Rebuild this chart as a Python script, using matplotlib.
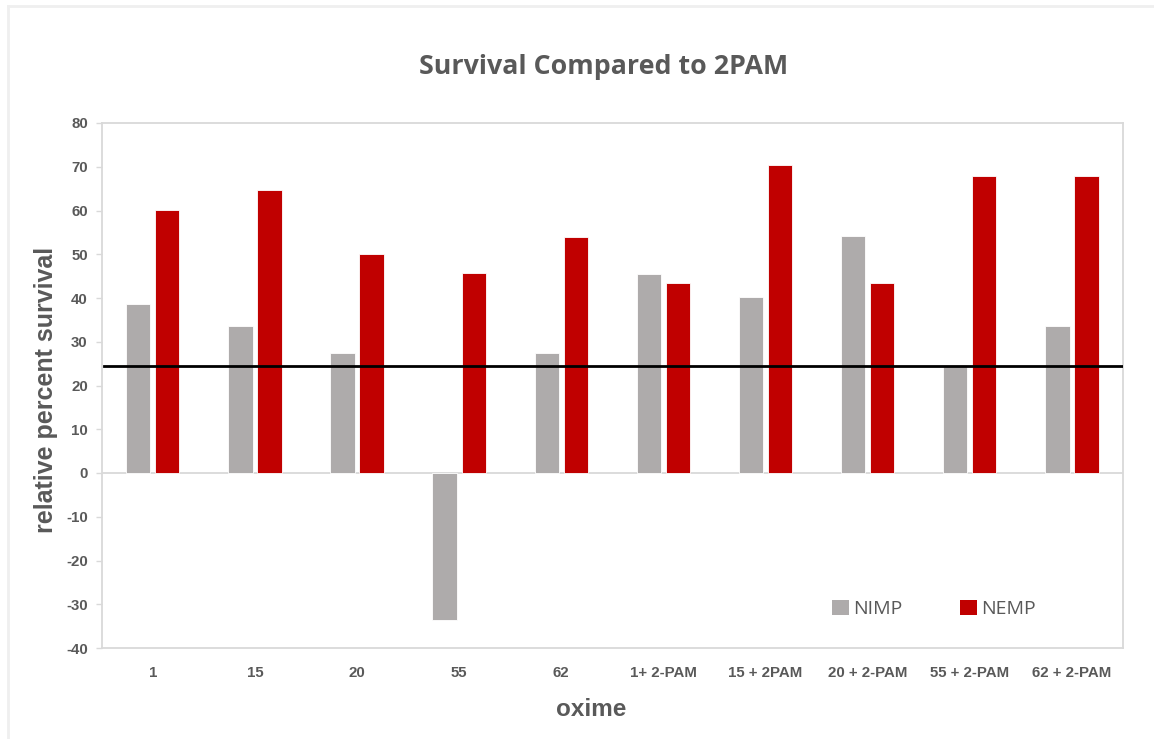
import matplotlib
matplotlib.use("Agg")
import matplotlib.pyplot as plt
import numpy as np
from matplotlib.patches import Patch

categories = ["1", "15", "20", "55", "62", "1+ 2-PAM", "15 + 2PAM", "20 + 2-PAM", "55 + 2-PAM", "62 + 2-PAM"]
nimp = [38.6, 33.6, 27.4, -33.6, 27.4, 45.4, 40.3, 54.1, 24.6, 33.6]
nemp = [60.2, 64.8, 50.0, 45.8, 53.9, 43.4, 70.3, 43.4, 67.8, 67.8]
baseline = 24.5
yticks = [-40, -30, -20, -10, 0, 10, 20, 30, 40, 50, 60, 70, 80]

txt = "#595959"
grid = "#D9D9D9"
c_nimp = "#AEABAB"
c_nemp = "#C00000"

fig = plt.figure(figsize=(11.54, 7.39), dpi=100)
ax = fig.add_axes([101.7/1154, 1-648/739, (1123-101.7)/1154, (648-123)/739])

x = np.arange(len(categories))
w = 0.238
off = 0.142
ax.bar(x - off, nimp, width=w, color=c_nimp, edgecolor="white", linewidth=0.6, zorder=2)
ax.bar(x + off, nemp, width=w, color=c_nemp, edgecolor="white", linewidth=0.6, zorder=2)

ax.set_xlim(-0.5, len(categories) - 0.5)
ax.set_ylim(-40, 80)
ax.set_yticks(yticks)
ax.set_yticklabels([str(v) for v in yticks])
ax.set_xticks(x)
ax.set_xticklabels(categories)

ax.axhline(0, color=grid, linewidth=1.3, zorder=1)
ax.axhline(baseline, xmin=0.002, xmax=0.999, color="black", linewidth=2.0, zorder=3)

for s in ax.spines.values():
    s.set_color(grid)
    s.set_linewidth(1.3)

ax.tick_params(axis="y", length=4, width=1, color=grid, labelcolor=txt, pad=6)
ax.tick_params(axis="x", length=0, labelcolor=txt, pad=13)
for lab in ax.get_yticklabels() + ax.get_xticklabels():
    lab.set_fontfamily("Liberation Sans")
    lab.set_fontweight("bold")
    lab.set_fontsize(10.8)

fig.text(46/1154, 1-390/739, "relative percent survival", rotation=90, ha="center", va="center",
         fontfamily="Liberation Sans", fontweight="bold", fontsize=18, color=txt)
fig.text(591/1154, 1-710/739, "oxime", ha="center", va="center",
         fontfamily="Liberation Sans", fontweight="bold", fontsize=17.5, color=txt)

fig.text(604/1154, 1-67/739, "Survival Compared to 2PAM", ha="center", va="center",
         fontfamily="Open Sans", fontweight="bold", fontsize=19.3, color=txt)

handles = [Patch(facecolor=c_nimp, label="NIMP"), Patch(facecolor=c_nemp, label="NEMP")]
leg = fig.legend(handles=handles, loc="center", bbox_to_anchor=(934/1154, 1-609/739), ncol=2,
                 frameon=False, handlelength=0.85, handleheight=0.85, handletextpad=0.2,
                 columnspacing=3.0, prop={"family": "Open Sans", "size": 14})
for t in leg.get_texts():
    t.set_color(txt)

# outer chart border (top and left visible)
fig.add_artist(plt.Line2D([8/1154, 1.0], [1-6/739, 1-6/739], color="#EFEFEF", linewidth=2,
                          transform=fig.transFigure))
fig.add_artist(plt.Line2D([8/1154, 8/1154], [0, 1-6/739], color="#EFEFEF", linewidth=2,
                          transform=fig.transFigure))

fig.savefig("out.png", dpi=100, facecolor="white")
